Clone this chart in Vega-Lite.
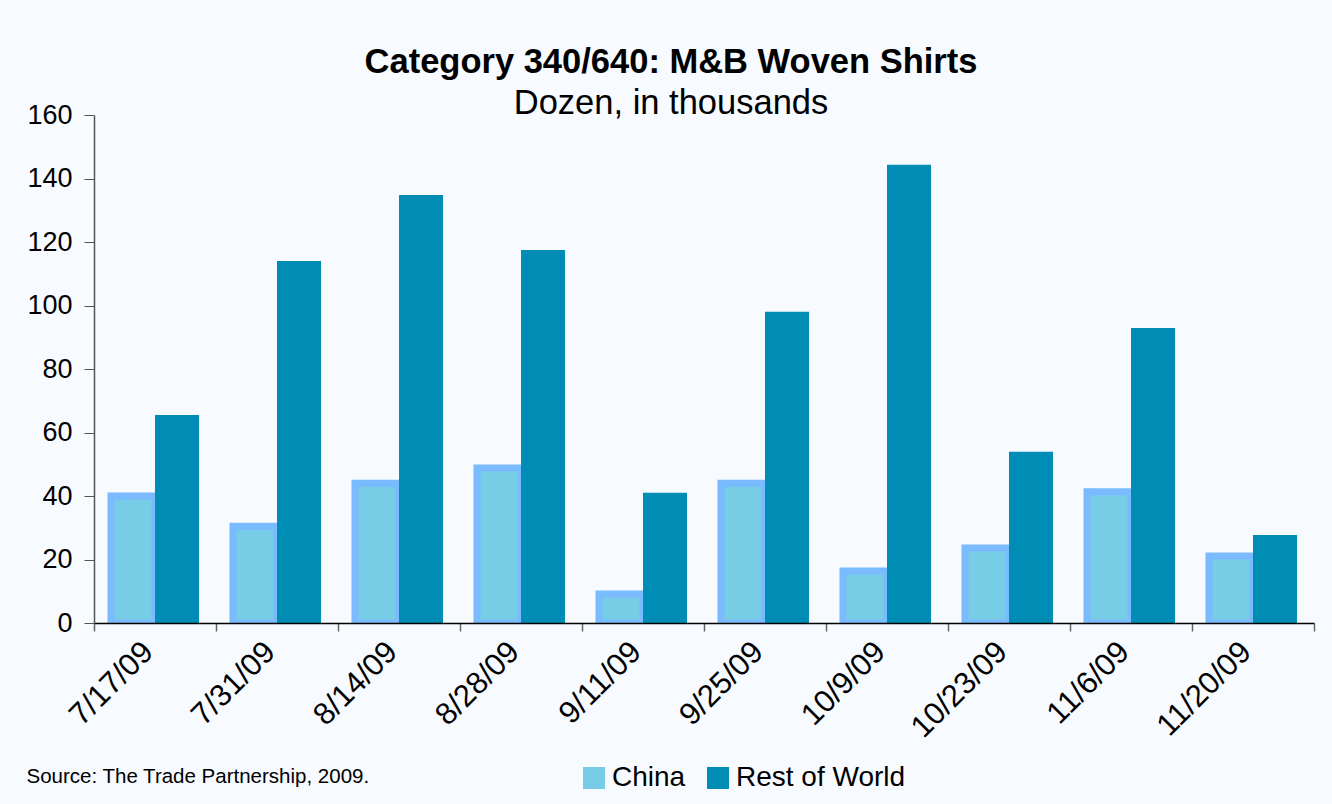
{
  "$schema": "https://vega.github.io/schema/vega-lite/v6.json",
  "width": 1220,
  "height": 508,
  "autosize": {"type": "none"},
  "padding": {"left": 94, "top": 115, "right": 18, "bottom": 181},
  "background": "#F7FAFF",
  "config": {
    "view": {"stroke": null},
    "font": "Liberation Sans",
    "axis": {"labelFont": "Liberation Sans", "titleFont": "Liberation Sans", "labelColor": "#000", "grid": false}
  },
  "title": {
    "text": "Category 340/640: M&B Woven Shirts",
    "subtitle": "Dozen, in thousands",
    "fontSize": 34.5,
    "fontWeight": "bold",
    "subtitleFontSize": 34.5,
    "subtitleColor": "#000",
    "color": "#000",
    "font": "Liberation Sans",
    "subtitleFont": "Liberation Sans",
    "anchor": "middle",
    "dx": -33,
    "offset": -20,
    "subtitlePadding": 6
  },
  "data": {
    "values": [
      {"date": "7/17/09", "series": "China", "value": 40.0},
      {"date": "7/31/09", "series": "China", "value": 30.5},
      {"date": "8/14/09", "series": "China", "value": 44.0},
      {"date": "8/28/09", "series": "China", "value": 48.8},
      {"date": "9/11/09", "series": "China", "value": 9.1},
      {"date": "9/25/09", "series": "China", "value": 44.0},
      {"date": "10/9/09", "series": "China", "value": 16.4},
      {"date": "10/23/09", "series": "China", "value": 23.6},
      {"date": "11/6/09", "series": "China", "value": 41.3},
      {"date": "11/20/09", "series": "China", "value": 21.1},
      {"date": "7/17/09", "series": "Rest of World", "value": 65.5},
      {"date": "7/31/09", "series": "Rest of World", "value": 114.0},
      {"date": "8/14/09", "series": "Rest of World", "value": 134.8},
      {"date": "8/28/09", "series": "Rest of World", "value": 117.5},
      {"date": "9/11/09", "series": "Rest of World", "value": 41.0},
      {"date": "9/25/09", "series": "Rest of World", "value": 98.0},
      {"date": "10/9/09", "series": "Rest of World", "value": 144.3},
      {"date": "10/23/09", "series": "Rest of World", "value": 53.9},
      {"date": "11/6/09", "series": "Rest of World", "value": 92.9},
      {"date": "11/20/09", "series": "Rest of World", "value": 27.7}
    ]
  },
  "encoding": {
    "x": {
      "field": "date",
      "type": "nominal",
      "sort": null,
      "scale": {"paddingInner": 0, "paddingOuter": 0},
      "axis": {
        "title": "Source: The Trade Partnership, 2009.",
        "titleFontSize": 20.5,
        "titleFontWeight": "normal",
        "titleColor": "#000",
        "titleX": -68,
        "titleY": 159,
        "titleAlign": "left",
        "titleAnchor": null,
        "titleBaseline": "alphabetic",
        "titleAngle": 0,
        "labelAngle": -45,
        "labelAlign": "right",
        "labelBaseline": "middle",
        "labelFontSize": 31,
        "labelPadding": 16,
        "labelOffset": -7,
        "tickBand": "extent",
        "tickSize": 8,
        "tickColor": "#666",
        "tickWidth": 1.5,
        "domainColor": "#000",
        "domainWidth": 1.5,
        "zindex": 1
      }
    },
    "xOffset": {
      "field": "series",
      "type": "nominal",
      "scale": {"paddingInner": 0, "paddingOuter": 0.386}
    },
    "y": {
      "field": "value",
      "type": "quantitative",
      "scale": {"domain": [0, 160], "nice": false},
      "axis": {
        "title": null,
        "values": [0, 20, 40, 60, 80, 100, 120, 140, 160],
        "labelFontSize": 27,
        "labelPadding": 12,
        "tickSize": 10,
        "tickColor": "#555",
        "domainColor": "#555",
        "domainWidth": 1.5,
        "zindex": 1
      }
    },
    "color": {
      "field": "series",
      "type": "nominal",
      "scale": {"domain": ["China", "Rest of World"], "range": ["#77CCE6", "#008DB5"]},
      "legend": {
        "title": null,
        "orient": "none",
        "direction": "horizontal",
        "legendX": 486,
        "legendY": 649,
        "labelFontSize": 28,
        "labelColor": "#000",
        "labelFont": "Liberation Sans",
        "labelLimit": 400,
        "symbolType": "square",
        "symbolSize": 484,
        "symbolStrokeWidth": 0,
        "symbolOpacity": 1,
        "labelOffset": 4,
        "columnPadding": 18
      }
    }
  },
  "layer": [
    {
      "transform": [{"filter": "datum.series === 'China'"}],
      "mark": {"type": "bar", "stroke": "#7ABAFF", "strokeWidth": 7, "clip": true}
    },
    {
      "transform": [{"filter": "datum.series === 'Rest of World'"}],
      "mark": {"type": "bar"}
    }
  ]
}
